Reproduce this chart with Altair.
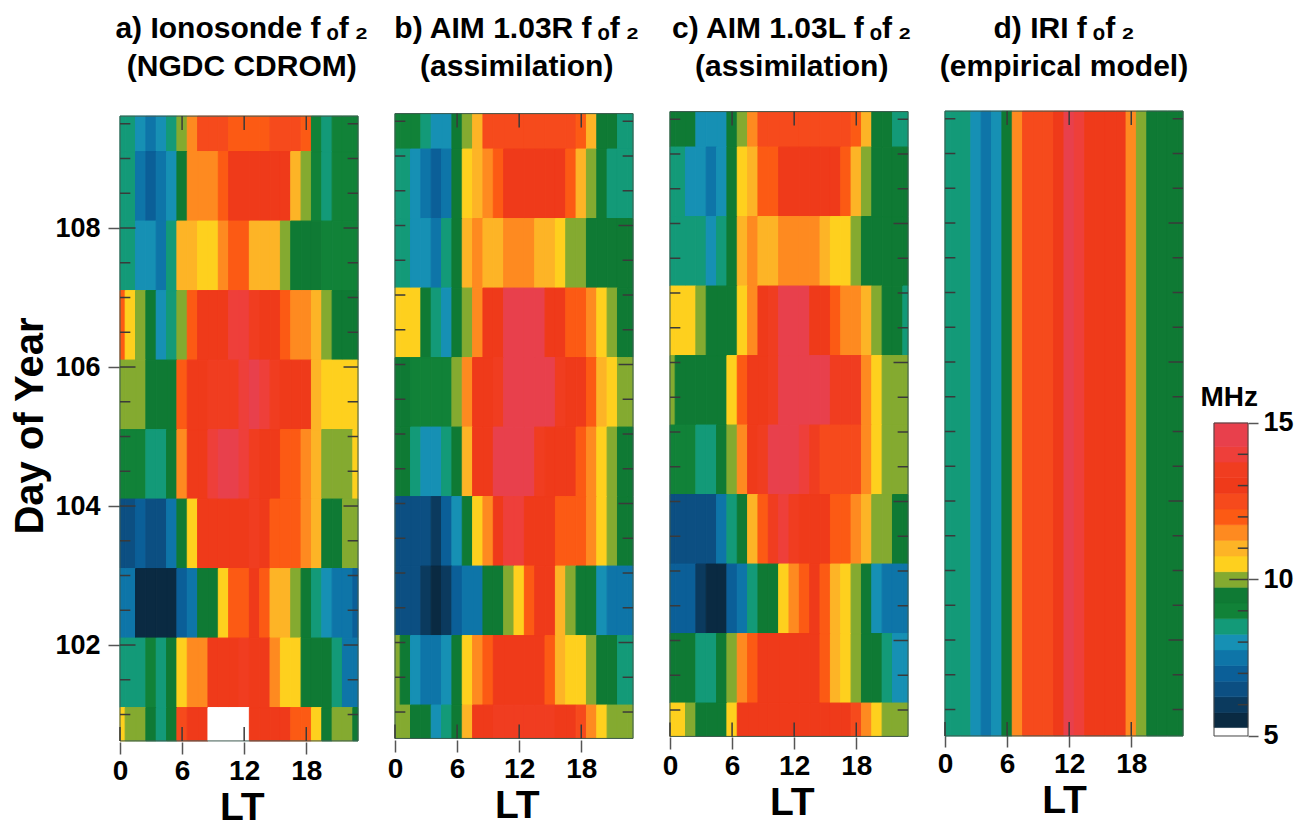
import altair as alt
import pandas as pd

FONT = "Liberation Sans"

thresholds = [5.25, 5.75, 6.25, 6.75, 7.25, 7.75, 8.25, 8.75, 9.25, 9.75,
              10.25, 10.75, 11.25, 11.75, 12.25, 12.75, 13.25, 13.75, 14.25]
palette = ["#FFFFFF", "#0A2A42", "#0B3A5E", "#0C4F82", "#0B5F98", "#0E75A8", "#1690B4",
           "#139A78", "#118238", "#0F7A34", "#84AA30", "#FED01E", "#FDB426", "#FE8A20",
           "#FC5A14", "#F64A1C", "#EF3A1A", "#F03D20", "#EE3F3A", "#E8404C"]

# rows run from the top of the panel to the bottom; columns are LT 0..23
panel_a = [
    [8.5,8.5,8,7.5,8,8.5,10,11.5,12.5,12.5,12.5,12,12,12,12,12.5,12.5,12.5,12,9,8.5,9,9,9],
    [8.5,8.5,7.5,7,7.5,8,9.5,11.5,11.5,11.5,12,13,13,13,13,13,13,11,10,9,8.5,9,9,9],
    [8.5,8.5,8,8,7.5,8.5,11,11,10.5,10.5,11.5,12,12,11,11,11,10,9.5,9.5,9.5,9,9,9,9],
    [12,10.5,10,9.5,8,8.5,10,12,13,13,13,14,14,13.5,13,13,12,11.5,11.5,11,10,9.5,9.5,9.5],
    [10,10,10,9.5,9.5,9.5,12,13,13,13.5,13.5,13.5,14,14.7,14,13.5,13,13,13,11,10.5,10.5,10.5,10.5],
    [9,9,9,8.5,8.5,9.5,11.5,13,13,14,14.5,14.7,14,13.5,13,13,12,12,11.5,11,10,10,10,10.5],
    [6.5,6.5,7,6.5,6.5,7.5,9.5,10.6,13,13,13,13,13,13.5,13,12,12,12,11.5,11,9.5,9.5,10,10],
    [7.5,7.5,5.5,5.5,5.5,5.5,7,7.5,9.5,9.5,10.5,12,12,13,12,11,11,10,9.5,8.5,8,7.5,7.5,7],
    [8.5,8.5,8.5,9,8.5,9.5,10.5,11.5,11.5,13,13,13,13.5,13,13,11.5,10.5,10.5,9.5,9.5,9.5,8.5,7.5,7.5],
    [10.5,10,10,9.5,8.5,9.5,12.5,13,13,5.1,5.1,5.1,5.1,13,13,13,13,12,12,10.5,9.5,10,10,9.5],
]
panel_b = [
    [9,9,9,8.5,8,8,9.5,10,11,12.5,12.5,12.4,12.4,12.4,12.4,12.4,12.4,12.4,12,11,9.5,9.5,8.5,8.5],
    [8.5,8.5,8,7.5,7,7.5,9.5,10.5,11,11.5,12,13,13,13,13,13,13,12,11,10,9.5,8.5,8.5,8.5],
    [8.5,8.5,8,8,7.5,8.5,9.5,11,11.5,11,11,11.5,11.5,11.5,11,11,10.5,10,10,9.5,9.5,9.5,9.5,9.5],
    [10.5,10.5,10.5,9.5,8.5,8,9.5,10,11.5,13,13,14.7,14.7,14.7,14.7,13,13,12,12,11.5,10.5,10,9.5,9.5],
    [9.5,9.5,9,9,9,9,10,11.5,13,13,13.5,14.7,14.7,14.7,14.7,14.7,13.5,13,13,12,11,10.5,10,10],
    [9.5,9.5,8.5,8,8,8.5,9.5,11,13,13,14.7,14.7,14.7,14.7,13.5,13,13,13,12,11.5,10.5,10,9.5,9.5],
    [6.5,6.5,6.5,6.5,6,7,8,9.5,10.5,11.5,13,14,14,13,13,13,12,12,12,11.5,10.5,10,9.5,9.5],
    [6.5,6.5,6.5,6,5.5,6,7,7.5,7.5,9.5,9.5,10,10.5,12,13,13,11,10,9.5,9.5,8,7.5,7.5,7.5],
    [10,9.5,8,7.5,7.5,8,9.5,10.5,11.5,12,13,13,13,13,13,12,11,10.5,10.5,10,9.5,9.5,8.5,8.5],
    [10,10,9.5,9.5,8,8.5,9.5,11,13,13,13.5,13.5,13.5,13.5,13.5,13.5,13,13,12.5,11.5,10.5,10,10,10],
]
panel_c = [
    [9.5,9.5,9.5,8,8,8,9.5,10,11.5,12.5,12.5,12.4,12.4,12.4,12.4,12.4,12.4,12.4,12,11,9.5,9.5,8.5,8.5],
    [8.5,8.5,8,8,7.5,8,9.5,10.5,11,12,12,13,13,13,13,13,13,12,11,10,9.5,9.5,9.5,9.5],
    [8.5,8.5,8.5,8.5,8,8.5,9.5,11,11.5,11,11,11.5,11.5,11.5,11.5,11,10.5,10.5,10,9.5,9.5,9.5,9.5,9.5],
    [10.5,10.5,10.5,10,9.5,9.5,9.5,10.5,11.5,13,13.5,14.7,14.7,14.7,13,13,12,11.5,11.5,11,10,9.5,9.5,8.5],
    [10,9.5,9.5,9.5,9.5,9.5,10.5,12,13,13,13.5,14.7,14.7,14.7,14.7,14.7,13.5,13.5,13.5,11.5,10.5,10,10,10],
    [9,9,9,8.5,8.5,9.5,10,11.5,13,13.5,14.7,14.7,14.7,14,13.5,12.5,12.5,12.5,12.4,11.5,10.5,10,10,10],
    [6.5,6.5,6.5,6.5,6.5,7.5,8.5,9.5,10.9,12,13.5,14,13.5,13,13,13,12,12,11.5,11,10,10,9.5,9.5],
    [7,7,7,6,5.5,5.5,7,7.5,8.5,9.5,9.5,10.5,11.5,12,13,12,11,10.5,10,9.5,8,7.5,7.5,7.5],
    [9.5,9.5,9.5,8.5,8.5,9.5,10,11.5,12,13,13,13,13,13,13,12,11,10.5,10,9.5,9.5,8.5,8,8],
    [10.5,10.5,10,9.5,9.5,9.5,10.5,13,13,13,13,13,13,13,13,13,13,13,12.5,11.5,10.5,10,10,10],
]
panel_d = [
    [8.5,8.5,8.5,8,7.5,8,9.5,11.5,12.4,12.4,12.4,13,14.5,14,13,13,13,13,11.5,10,9.5,9.5,9.5,9.5],
]

row_edges = [109.61, 109.1, 108.1, 107.1, 106.1, 105.1, 104.1, 103.1, 102.1, 101.1, 100.62]
d_edges = [109.61, 100.62]
half_days = [101, 101.5, 102, 102.5, 103, 103.5, 104, 104.5, 105, 105.5,
             106, 106.5, 107, 107.5, 108, 108.5, 109, 109.5]
day_ticks = [102, 104, 106, 108]
lt_ticks = [0, 6, 12, 18]
titles = [
    ["a)  Ionosonde  f\u2009ₒf\u2009₂", "(NGDC CDROM)"],
    ["b)  AIM  1.03R  f\u2009ₒf\u2009₂", "(assimilation)"],
    ["c)  AIM  1.03L  f\u2009ₒf\u2009₂", "(assimilation)"],
    ["d)  IRI  f\u2009ₒf\u2009₂", "(empirical model)"],
]
# each panel's day axis is displaced slightly on the scanned page
y_domains = [[100.619, 109.698], [100.583, 109.662], [100.554, 109.633], [100.547, 109.626]]
x_offsets = [1, -1, -4, -6]

bar_edges = [5, 5.27, 5.75, 6.25, 6.75, 7.25, 7.75, 8.25, 8.75, 9.25, 9.75, 10.25,
             10.75, 11.25, 11.75, 12.25, 12.75, 13.25, 13.75, 14.25, 15]
bar_values = [5.1, 5.5, 6, 6.5, 7, 7.5, 8, 8.5, 9, 9.5, 10, 10.5, 11, 11.5, 12, 12.5, 13, 13.5, 14, 14.7]
bar_minor = [6, 7, 8, 9, 11, 12, 13, 14]

color_scale = alt.Scale(type="threshold", domain=thresholds, range=palette)
TICK = "#3a3a3a"


def panel(rows, edges, ydom, xmax, width, title, xoff, first):
    xs = alt.Scale(domain=[0, xmax], nice=False, zero=False)
    ys = alt.Scale(domain=ydom, nice=False, zero=False)
    xaxis = alt.Axis(
        values=lt_ticks, title="LT", grid=False, domain=False, offset=xoff, format="d",
        tickSize=12, tickColor="#555555", tickWidth=1.5,
        labelFontSize=28, labelFont=FONT, labelFontWeight="bold", labelColor="#000", labelPadding=3,
        titleFontSize=39, titleFont=FONT, titleFontWeight="bold", titleColor="#000", titlePadding=3,
        labelFlush=False)
    yaxis = None
    if first:
        yaxis = alt.Axis(values=day_ticks, title="Day of Year", format="d", grid=False, domain=False,
                         tickSize=12, tickColor="#555555", tickWidth=1.5,
                         labelFontSize=27, labelFont=FONT, labelFontWeight="bold", labelColor="#000",
                         labelPadding=8, titleFontSize=40, titleFont=FONT, titleFontWeight="bold",
                         titleColor="#000", titlePadding=4)
    cells = []
    for r, row in enumerate(rows):
        for k, v in enumerate(row):
            cells.append(dict(x0=max(k - .5, 0), x1=min(k + .5, 23),
                              y0=edges[r + 1], y1=edges[r], v=v))
    base = alt.Chart(pd.DataFrame(cells)).mark_rect(strokeWidth=1).encode(
        x=alt.X("x0:Q", scale=xs, axis=xaxis),
        x2="x1:Q",
        y=alt.Y("y0:Q", scale=ys, axis=yaxis),
        y2="y1:Q",
        color=alt.Color("v:Q", scale=color_scale, legend=None),
        stroke=alt.Stroke("v:Q", scale=color_scale, legend=None),
    )
    ticks = []
    for d in half_days:
        reach = 1.5 if first and d in day_ticks else 1.0
        ticks.append(dict(x0=0, x1=reach, y0=d, y1=d))
        ticks.append(dict(x0=23 - (1.4 if d in day_ticks else 1.0), x1=23, y0=d, y1=d))
    for t in lt_ticks[1:]:
        ticks.append(dict(x0=t, x1=t, y0=edges[0] - 0.2, y1=edges[0]))
    for t in lt_ticks:
        ticks.append(dict(x0=t, x1=t, y0=edges[-1], y1=edges[-1] + 0.2))
    tick_layer = alt.Chart(pd.DataFrame(ticks)).mark_rule(color=TICK, strokeWidth=1.5).encode(
        x=alt.X("x0:Q", scale=xs, axis=xaxis), x2="x1:Q",
        y=alt.Y("y0:Q", scale=ys, axis=yaxis), y2="y1:Q",
    )
    frame = alt.Chart(pd.DataFrame([dict(x0=0, x1=23, y0=edges[-1], y1=edges[0])])).mark_rect(
        fillOpacity=0, stroke="#3f5a50", strokeWidth=1).encode(
        x=alt.X("x0:Q", scale=xs, axis=xaxis), x2="x1:Q",
        y=alt.Y("y0:Q", scale=ys, axis=yaxis), y2="y1:Q",
    )
    return alt.layer(base, frame, tick_layer).properties(
        width=width, height=631,
        title=alt.TitleParams(text=title, font=FONT, fontSize=30, fontWeight="bold", color="#000",
                              anchor="middle", lineHeight=38, offset=28),
    )


bar_scale_y = alt.Scale(domain=[4.84, 25.0], nice=False, zero=False)
bar_scale_x = alt.Scale(domain=[0, 1], nice=False, zero=False)
bar_axis = alt.Axis(
    orient="right", values=[5, 10, 15], title=None, grid=False, domain=False,
    tickSize=10, tickColor="#555555", tickWidth=1.5, labelFontSize=27, labelFont=FONT,
    labelFontWeight="bold", labelColor="#000", labelPadding=5)
bar_rows = [dict(x0=0, x1=1, y0=bar_edges[i], y1=bar_edges[i + 1], v=bar_values[i]) for i in range(len(bar_values))]
bar = alt.Chart(pd.DataFrame(bar_rows)).mark_rect(strokeWidth=0.6).encode(
    x=alt.X("x0:Q", scale=bar_scale_x, axis=None), x2="x1:Q",
    y=alt.Y("y0:Q", scale=bar_scale_y, axis=bar_axis),
    y2="y1:Q",
    color=alt.Color("v:Q", scale=color_scale, legend=None),
    stroke=alt.Stroke("v:Q", scale=color_scale, legend=None),
)
bar_frame = alt.Chart(pd.DataFrame([dict(x0=0, x1=1, y0=5, y1=15)])).mark_rect(
    fillOpacity=0, stroke="#444444", strokeWidth=1).encode(
    x=alt.X("x0:Q", scale=bar_scale_x, axis=None), x2="x1:Q",
    y=alt.Y("y0:Q", scale=bar_scale_y, axis=bar_axis), y2="y1:Q")
bar_ticks = alt.Chart(pd.DataFrame(
    [dict(x0=0.7, x1=1, y0=m) for m in bar_minor] + [dict(x0=0.45, x1=1, y0=10)]
)).mark_rule(color=TICK, strokeWidth=1.5).encode(
    x=alt.X("x0:Q", scale=bar_scale_x, axis=None), x2="x1:Q",
    y=alt.Y("y0:Q", scale=bar_scale_y, axis=bar_axis))
bar_title = alt.Chart(pd.DataFrame([dict(x0=0.45, y0=15.8, t="MHz")])).mark_text(
    font=FONT, fontSize=28, fontWeight="bold", color="#000", baseline="middle", align="center").encode(
    x=alt.X("x0:Q", scale=bar_scale_x, axis=None),
    y=alt.Y("y0:Q", scale=bar_scale_y, axis=bar_axis),
    text="t:N")
colorbar = alt.layer(bar, bar_frame, bar_ticks, bar_title).properties(width=34, height=631)

chart = alt.hconcat(
    panel(panel_a, row_edges, y_domains[0], 23.531, 243.5, titles[0], x_offsets[0], True),
    panel(panel_b, row_edges, y_domains[1], 23.531, 243.5, titles[1], x_offsets[1], False),
    panel(panel_c, row_edges, y_domains[2], 23.531, 243.5, titles[2], x_offsets[2], False),
    panel(panel_d, d_edges, y_domains[3], 23, 238, titles[3], x_offsets[3], False),
    colorbar,
    spacing=31, bounds="flush",
).properties(padding={"top": 6, "left": 2, "right": 0, "bottom": 0}, background="#ffffff").configure_view(stroke=None)

chart.save("out.html", embed_options={"renderer": "svg", "actions": False})
